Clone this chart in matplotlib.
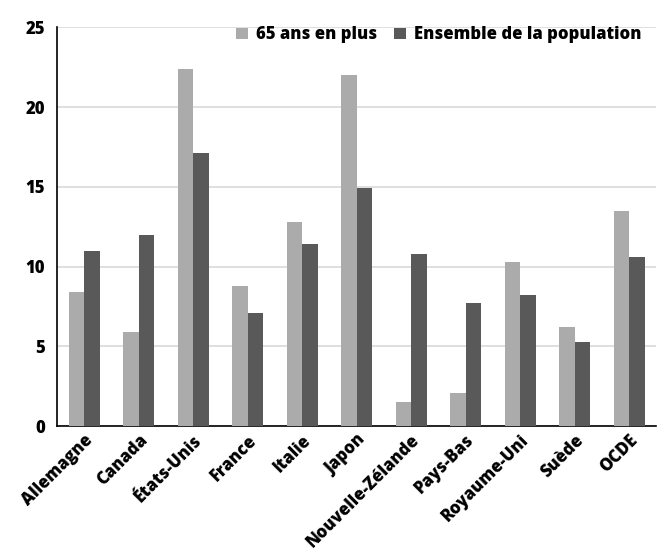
import matplotlib
matplotlib.use("Agg")
import matplotlib.pyplot as plt
import numpy as np

pays = ["Allemagne", "Canada", "États-Unis", "France", "Italie", "Japon",
        "Nouvelle-Zélande", "Pays-Bas", "Royaume-Uni", "Suède", "OCDE"]
plus_65 = [8.4, 5.9, 22.4, 8.8, 12.8, 22.0, 1.5, 2.1, 10.3, 6.2, 13.5]
ensemble = [11.0, 12.0, 17.1, 7.1, 11.4, 14.9, 10.8, 7.7, 8.2, 5.3, 10.6]

plt.rcParams["font.family"] = ["Open Sans", "DejaVu Sans"]
plt.rcParams["font.weight"] = 800

fig = plt.figure(figsize=(6.57, 5.55), dpi=100)
ax = fig.add_axes([0.087, 0.232, 0.912, 0.719])

x = np.arange(len(pays))
w = 0.285
ax.bar(x - w / 2, plus_65, w, color="#ababab", label="65 ans en plus", zorder=3)
ax.bar(x + w / 2, ensemble, w, color="#595959", label="Ensemble de la population", zorder=3)

ax.set_xlim(-0.5, len(pays) - 0.5)
ax.set_ylim(0, 25)
ax.set_yticks([0, 5, 10, 15, 20, 25])
ax.grid(True, axis="y", color="#d9d9d9", linewidth=1.2, zorder=0)
ax.set_xticks(x)
ax.set_xticklabels(pays, rotation=45, ha="right", rotation_mode="anchor",
                   fontsize=12, fontweight=800)
ax.tick_params(axis="both", length=0, labelsize=12)
ax.tick_params(axis="y", pad=9)
ax.tick_params(axis="x", pad=4)
for lab in ax.get_yticklabels():
    lab.set_fontweight(800)

ax.spines["top"].set_visible(False)
ax.spines["right"].set_visible(False)
ax.spines["left"].set_color("black")
ax.spines["bottom"].set_color("black")
ax.spines["left"].set_linewidth(1.2)
ax.spines["bottom"].set_linewidth(1.2)

ax.legend(loc="upper right", bbox_to_anchor=(1.0, 1.04), ncol=2, frameon=False,
          handlelength=0.7, handleheight=0.7, columnspacing=1.0,
          handletextpad=0.5, prop={"weight": 800, "size": 12})

fig.savefig("out.png", dpi=100)
